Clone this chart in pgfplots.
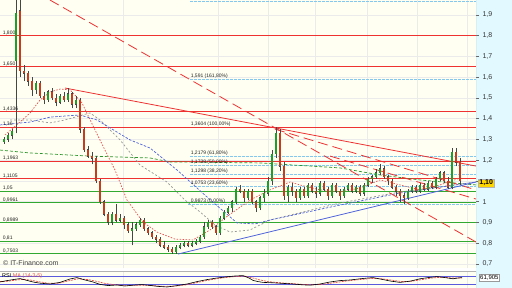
\documentclass[border=0pt]{standalone}
\usepackage{pgfplots}
\pgfplotsset{compat=1.18}
\usepackage{pgfplotstable}
\usepackage{fontspec}
\setmainfont{Liberation Sans}
\definecolor{bgc}{RGB}{255,255,242}
\definecolor{panel}{RGB}{226,250,255}
\definecolor{lvred}{RGB}{238,50,50}
\definecolor{lvgreen}{RGB}{50,170,50}
\definecolor{fib}{RGB}{130,200,240}
\definecolor{upc}{RGB}{30,160,40}
\definecolor{dnc}{RGB}{200,60,30}
\definecolor{wick}{RGB}{70,70,70}
\definecolor{mablue}{RGB}{80,100,220}
\definecolor{magrey}{RGB}{150,150,150}
\definecolor{mared}{RGB}{235,80,80}
\definecolor{magreen}{RGB}{40,150,40}
\definecolor{rsiline}{RGB}{90,90,220}
\definecolor{gold}{RGB}{255,215,0}

\pgfplotstableread{
x o h l c
4 1.29 1.31 1.28 1.30
8 1.30 1.33 1.29 1.32
12 1.32 1.35 1.30 1.34
16 1.68 1.97 1.33 1.91
20 1.92 1.97 1.60 1.63
24 1.63 1.66 1.58 1.62
28 1.62 1.63 1.56 1.58
32 1.58 1.60 1.51 1.54
36 1.54 1.58 1.52 1.57
40 1.57 1.58 1.50 1.51
44 1.51 1.53 1.47 1.49
48 1.49 1.54 1.48 1.53
52 1.53 1.55 1.49 1.50
56 1.50 1.52 1.46 1.48
60 1.48 1.52 1.47 1.51
64 1.51 1.53 1.48 1.49
68 1.49 1.55 1.48 1.52
72 1.52 1.53 1.45 1.47
76 1.47 1.51 1.45 1.49
80 1.49 1.50 1.33 1.35
84 1.35 1.36 1.24 1.25
88 1.25 1.27 1.21 1.22
92 1.22 1.24 1.18 1.21
96 1.21 1.22 1.09 1.10
100 1.10 1.11 0.99 1.00
104 1.00 1.01 0.93 0.94
108 0.94 0.95 0.89 0.90
112 0.90 0.95 0.89 0.94
116 0.94 0.99 0.90 0.91
120 0.91 0.94 0.90 0.92
124 0.92 0.93 0.87 0.89
128 0.89 0.90 0.85 0.86
132 0.86 0.90 0.79 0.87
136 0.87 0.90 0.86 0.89
140 0.89 0.92 0.88 0.91
144 0.91 0.92 0.86 0.87
148 0.87 0.88 0.84 0.85
152 0.85 0.86 0.82 0.83
156 0.83 0.84 0.80 0.82
160 0.82 0.83 0.78 0.79
164 0.79 0.81 0.77 0.78
168 0.78 0.79 0.76 0.77
172 0.77 0.78 0.75 0.76
176 0.76 0.79 0.75 0.78
180 0.78 0.80 0.77 0.79
184 0.79 0.81 0.78 0.80
188 0.80 0.81 0.78 0.79
192 0.79 0.81 0.78 0.80
196 0.80 0.82 0.79 0.81
200 0.81 0.84 0.80 0.83
204 0.83 0.90 0.82 0.88
208 0.88 0.91 0.87 0.90
212 0.90 0.91 0.87 0.88
216 0.88 0.89 0.84 0.85
220 0.85 0.93 0.84 0.92
224 0.92 0.96 0.91 0.95
228 0.95 0.98 0.94 0.97
232 0.97 1.01 0.95 1.00
236 1.00 1.07 0.99 1.06
240 1.06 1.08 1.04 1.05
244 1.05 1.06 1.00 1.02
248 1.02 1.06 1.01 1.05
252 1.05 1.06 0.99 1.00
256 1.00 1.01 0.95 0.97
260 0.97 1.03 0.96 1.02
264 1.02 1.06 1.00 1.04
268 1.04 1.12 1.03 1.10
272 1.10 1.25 1.08 1.23
276 1.23 1.36 1.21 1.33
280 1.33 1.35 1.15 1.17
284 1.17 1.19 1.01 1.03
288 1.03 1.08 1.00 1.07
292 1.07 1.09 1.03 1.05
296 1.05 1.06 1.00 1.02
300 1.02 1.07 1.01 1.06
304 1.06 1.07 1.02 1.03
308 1.03 1.09 1.02 1.08
312 1.08 1.09 1.04 1.05
316 1.05 1.07 1.02 1.04
320 1.04 1.10 1.03 1.09
324 1.09 1.10 1.05 1.06
328 1.06 1.07 1.01 1.03
332 1.03 1.09 1.02 1.08
336 1.08 1.09 1.04 1.05
340 1.05 1.06 1.01 1.03
344 1.03 1.07 1.02 1.06
348 1.06 1.09 1.05 1.08
352 1.08 1.09 1.04 1.05
356 1.05 1.08 1.04 1.07
360 1.07 1.08 1.03 1.04
364 1.04 1.09 1.03 1.08
368 1.08 1.12 1.07 1.11
372 1.11 1.13 1.09 1.12
376 1.12 1.16 1.11 1.14
380 1.14 1.18 1.13 1.16
384 1.16 1.17 1.11 1.12
388 1.12 1.13 1.08 1.10
392 1.10 1.11 1.06 1.07
396 1.07 1.08 1.03 1.05
400 1.05 1.06 1.00 1.03
404 1.03 1.04 0.99 1.02
408 1.02 1.06 1.01 1.05
412 1.05 1.08 1.04 1.07
416 1.07 1.08 1.04 1.05
420 1.05 1.09 1.04 1.08
424 1.08 1.09 1.05 1.06
428 1.06 1.10 1.05 1.09
432 1.09 1.10 1.06 1.07
436 1.07 1.12 1.06 1.11
440 1.11 1.15 1.10 1.14
444 1.14 1.15 1.09 1.10
448 1.10 1.12 1.06 1.07
452 1.07 1.26 1.06 1.24
456 1.24 1.26 1.17 1.19
460 1.19 1.21 1.08 1.10
}\price

\begin{document}
\begin{tikzpicture}
\useasboundingbox (0,0) rectangle (512pt,288pt);
\fill[panel] (476pt,0) rectangle (512pt,288pt);
\begin{axis}[name=main, at={(0,20pt)}, anchor=south west, scale only axis,
  width=476pt, height=268pt,
  xmin=0, xmax=476, ymin=0.6807, ymax=1.9723,
  axis background/.style={fill=bgc},
  axis line style={draw=none},
  xtick={123,218,268,315,367,417,467}, xticklabels={}, xtick style={draw=none},
  ytick={0.7,0.8,0.9,1,1.1,1.2,1.3,1.4,1.5,1.6,1.7,1.8,1.9},
  yticklabels={0{,}7,0{,}8,0{,}9,1,,1{,}2,1{,}3,1{,}4,1{,}5,1{,}6,1{,}7,1{,}8,1{,}9},
  yticklabel pos=right, ytick pos=right, tick align=outside,
  major tick length=3pt, ytick style={draw=black!60, line width=0.5pt},
  yticklabel style={font=\fontsize{7}{8}\selectfont, text=black!80},
  xmajorgrids, ymajorgrids, major grid style={draw=black!8, line width=0.5pt},
]
% horizontal levels
\addplot[lvred, line width=1pt] coordinates {(0,1.8) (476,1.8)};
\addplot[lvred, line width=1pt] coordinates {(0,1.65) (476,1.65)};
\addplot[lvred, line width=1pt] coordinates {(0,1.4336) (476,1.4336)};
\addplot[lvred, line width=1pt] coordinates {(0,1.36) (476,1.36)};
\addplot[lvred, line width=1pt] coordinates {(0,1.1963) (476,1.1963)};
\addplot[lvred, line width=1pt] coordinates {(0,1.1105) (476,1.1105)};
\addplot[lvgreen, line width=1pt] coordinates {(0,1.05) (476,1.05)};
\addplot[lvgreen, line width=1pt] coordinates {(0,0.9961) (476,0.9961)};
\addplot[lvgreen, line width=1pt] coordinates {(0,0.8989) (476,0.8989)};
\addplot[lvgreen, line width=1pt] coordinates {(0,0.81) (476,0.81)};
\addplot[lvgreen, line width=1pt] coordinates {(0,0.7503) (476,0.7503)};
% fibonacci levels
\addplot[fib, line width=0.7pt, dash pattern=on 2.5pt off 1.5pt] coordinates {(190,1.964) (476,1.964)};
\addplot[fib, line width=0.7pt, dash pattern=on 2.5pt off 1.5pt] coordinates {(190,1.591) (476,1.591)};
\addplot[fib, line width=0.7pt, dash pattern=on 2.5pt off 1.5pt] coordinates {(190,1.2179) (476,1.2179)};
\addplot[fib, line width=0.7pt, dash pattern=on 2.5pt off 1.5pt] coordinates {(190,1.1738) (476,1.1738)};
\addplot[fib, line width=0.7pt, dash pattern=on 2.5pt off 1.5pt] coordinates {(190,1.1298) (476,1.1298)};
\addplot[fib, line width=0.7pt, dash pattern=on 2.5pt off 1.5pt] coordinates {(190,1.0753) (476,1.0753)};
\addplot[fib, line width=0.7pt, dash pattern=on 2.5pt off 1.5pt] coordinates {(188,0.9873) (476,0.9873)};
% moving averages
\addplot[magreen, line width=0.7pt, dash pattern=on 3pt off 2pt] coordinates {(0,1.249) (30,1.235) (90,1.220) (150,1.211) (170,1.192) (260,1.187) (340,1.163) (380,1.129) (420,1.105) (476,1.081)};
\addplot[magrey, line width=0.7pt, dash pattern=on 2pt off 2pt] coordinates {(10,1.394) (30,1.394) (50,1.380) (65,1.394) (90,1.428) (100,1.394) (120,1.298) (140,1.177) (167,1.095) (185,1.008) (200,0.951) (215,0.888) (230,0.854) (250,0.864) (270,0.912) (340,0.994) (400,1.047) (476,1.095)};
\addplot[mablue, line width=0.7pt, dash pattern=on 2.5pt off 1.5pt] coordinates {(0,1.370) (30,1.384) (50,1.408) (80,1.418) (97,1.394) (130,1.298) (150,1.259) (177,1.153) (207,1.023) (237,0.898) (255,0.893) (270,0.912) (340,0.984) (400,1.042) (476,1.095)};
\addplot[mared, line width=0.7pt, dash pattern=on 1.5pt off 1.5pt] coordinates {(5,1.322) (20,1.384) (30,1.428) (40,1.490) (50,1.529) (60,1.543) (70,1.539) (75,1.514) (82,1.476) (95,1.346) (105,1.249) (115,1.153) (127,1.008) (143,0.902) (157,0.854) (175,0.820) (193,0.816) (210,0.864) (225,0.922) (250,1.008) (270,1.057) (290,1.095) (300,1.081) (320,1.057) (340,1.047) (360,1.066) (380,1.105) (400,1.081) (420,1.057) (440,1.081) (460,1.114)};
% trend lines
\addplot[lvred, line width=0.8pt] coordinates {(65,1.548) (476,1.172)};
\addplot[lvred, line width=0.8pt, dash pattern=on 10pt off 5pt] coordinates {(50,1.972) (476,0.806)};
\addplot[lvred, line width=0.8pt, dash pattern=on 10pt off 5pt] coordinates {(275,1.350) (476,1.057)};
\addplot[lvred, line width=0.8pt, dash pattern=on 10pt off 5pt] coordinates {(330,1.220) (476,1.013)};
\addplot[mablue, line width=0.8pt] coordinates {(178,0.748) (476,1.095)};
% candles: wicks
\addplot[draw=none, mark=none, error bars/.cd, y dir=plus, y explicit, error mark=none,
  error bar style={draw=wick, line width=0.5pt}]
  table[x=x, y=l, y error expr=\thisrow{h}-\thisrow{l}] {\price};
% up bodies
\addplot[draw=none, mark=none, unbounded coords=discard, restrict expr to domain={\thisrow{c}-\thisrow{o}}{0:5},
  error bars/.cd, y dir=both, y explicit, error mark=none,
  error bar style={draw=wick, line width=2.6pt}]
  table[x=x, y expr=(\thisrow{o}+\thisrow{c})/2, y error expr=abs(\thisrow{c}-\thisrow{o})/2+0.002] {\price};
\addplot[draw=none, mark=none, unbounded coords=discard, restrict expr to domain={\thisrow{c}-\thisrow{o}}{0:5},
  error bars/.cd, y dir=both, y explicit, error mark=none,
  error bar style={draw=upc, line width=2pt}]
  table[x=x, y expr=(\thisrow{o}+\thisrow{c})/2, y error expr=abs(\thisrow{c}-\thisrow{o})/2] {\price};
% down bodies
\addplot[draw=none, mark=none, unbounded coords=discard, restrict expr to domain={\thisrow{o}-\thisrow{c}}{0.0001:5},
  error bars/.cd, y dir=both, y explicit, error mark=none,
  error bar style={draw=wick, line width=2.6pt}]
  table[x=x, y expr=(\thisrow{o}+\thisrow{c})/2, y error expr=abs(\thisrow{c}-\thisrow{o})/2+0.002] {\price};
\addplot[draw=none, mark=none, unbounded coords=discard, restrict expr to domain={\thisrow{o}-\thisrow{c}}{0.0001:5},
  error bars/.cd, y dir=both, y explicit, error mark=none,
  error bar style={draw=dnc, line width=2pt}]
  table[x=x, y expr=(\thisrow{o}+\thisrow{c})/2, y error expr=abs(\thisrow{c}-\thisrow{o})/2] {\price};
% right axis line
\draw[black!35] (rel axis cs:1,0) -- (rel axis cs:1,1);
% level labels
\begin{scope}[every node/.style={anchor=south west, inner sep=0.6pt, font=\fontsize{5}{6}\selectfont, text=black!85}]
\node at (axis cs:2,1.8) {1,800};
\node at (axis cs:2,1.65) {1,650};
\node at (axis cs:2,1.4336) {1,4336};
\node at (axis cs:2,1.36) {1,36};
\node at (axis cs:2,1.1963) {1,1963};
\node at (axis cs:2,1.1105) {1,1105};
\node at (axis cs:2,1.05) {1,05};
\node at (axis cs:2,0.9961) {0,9961};
\node at (axis cs:2,0.8989) {0,8989};
\node at (axis cs:2,0.81) {0,81};
\node at (axis cs:2,0.7503) {0,7503};
\node at (axis cs:190,1.591) {1,591 (161,80\%)};
\node at (axis cs:190,1.3604) {1,3604 (100,00\%)};
\node at (axis cs:190,1.2179) {1,2179 (61,80\%)};
\node at (axis cs:190,1.1738) {1,1738 (50,00\%)};
\node at (axis cs:190,1.1298) {1,1298 (38,20\%)};
\node at (axis cs:190,1.0753) {1,0753 (23,60\%)};
\node at (axis cs:190,0.9873) {0,9873 (0,00\%)};
\end{scope}
\end{axis}

\begin{axis}[at={(0,0)}, anchor=south west, scale only axis,
  width=476pt, height=17pt,
  xmin=0, xmax=476, ymin=10, ymax=95,
  axis background/.style={fill=bgc},
  axis line style={draw=none},
  xtick={123,218,268,315,367,417,467}, xticklabels={}, xtick style={draw=none},
  ytick=\empty, xmajorgrids, major grid style={draw=black!8, line width=0.5pt},
]
\addplot[rsiline, line width=0.8pt] coordinates {(0,70) (476,70)};
\addplot[rsiline, line width=0.8pt] coordinates {(0,30) (476,30)};
\addplot[mared, line width=0.7pt, dash pattern=on 2pt off 1pt] coordinates {(0,42) (8,44) (15,49) (22,53) (30,50) (38,42) (48,34) (58,33) (68,45) (78,56) (88,52) (96,44) (105,33) (115,26) (125,23) (135,23) (145,24) (155,21) (165,18) (175,19) (185,25) (195,35) (205,46) (215,55) (225,62) (235,67) (245,69) (253,60) (260,50) (268,42) (280,36) (292,32) (302,28) (312,26) (322,28) (332,35) (342,42) (352,48) (362,53) (372,58) (382,56) (392,49) (402,42) (412,44) (422,52) (432,60) (442,64) (452,60) (462,60)};
\addplot[black, line width=0.6pt] coordinates {(0,40) (6,46) (13,52) (20,57) (27,48) (33,40) (40,34) (50,30) (60,38) (70,55) (77,62) (85,50) (93,40) (100,28) (108,22) (117,25) (125,20) (133,24) (142,27) (150,23) (158,18) (167,15) (177,22) (187,30) (197,42) (207,52) (217,60) (227,66) (235,70) (243,72) (249,60) (253,48) (258,42) (263,38) (273,36) (283,33) (293,30) (302,26) (310,24) (320,30) (330,40) (340,47) (350,50) (360,56) (368,60) (373,62) (380,55) (390,45) (400,38) (410,44) (420,56) (428,62) (437,67) (445,62) (453,56) (458,60) (462,62)};
\draw[black!30] (rel axis cs:0,1) -- (rel axis cs:1,1);
\draw[black!35] (rel axis cs:1,0) -- (rel axis cs:1,1);
\end{axis}

\node[anchor=west, inner sep=0pt, font=\fontsize{7}{8}\selectfont, text=black!75] at (3pt,25pt) {© IT-Finance.com};
\node[anchor=west, inner sep=0pt, font=\fontsize{5.5}{6}\selectfont] at (2pt,12pt) {RSI \textcolor{mared}{MA (14-3-5)}};
\node[anchor=west, draw=black!40, fill=white, inner sep=1pt, font=\fontsize{6}{7}\selectfont] at (479pt,10pt) {61,905};
\node[anchor=west, fill=gold, draw=black!30, inner sep=1.2pt, font=\bfseries\fontsize{7}{8}\selectfont] at (478pt,105pt) {1,10};
\end{tikzpicture}
\end{document}
